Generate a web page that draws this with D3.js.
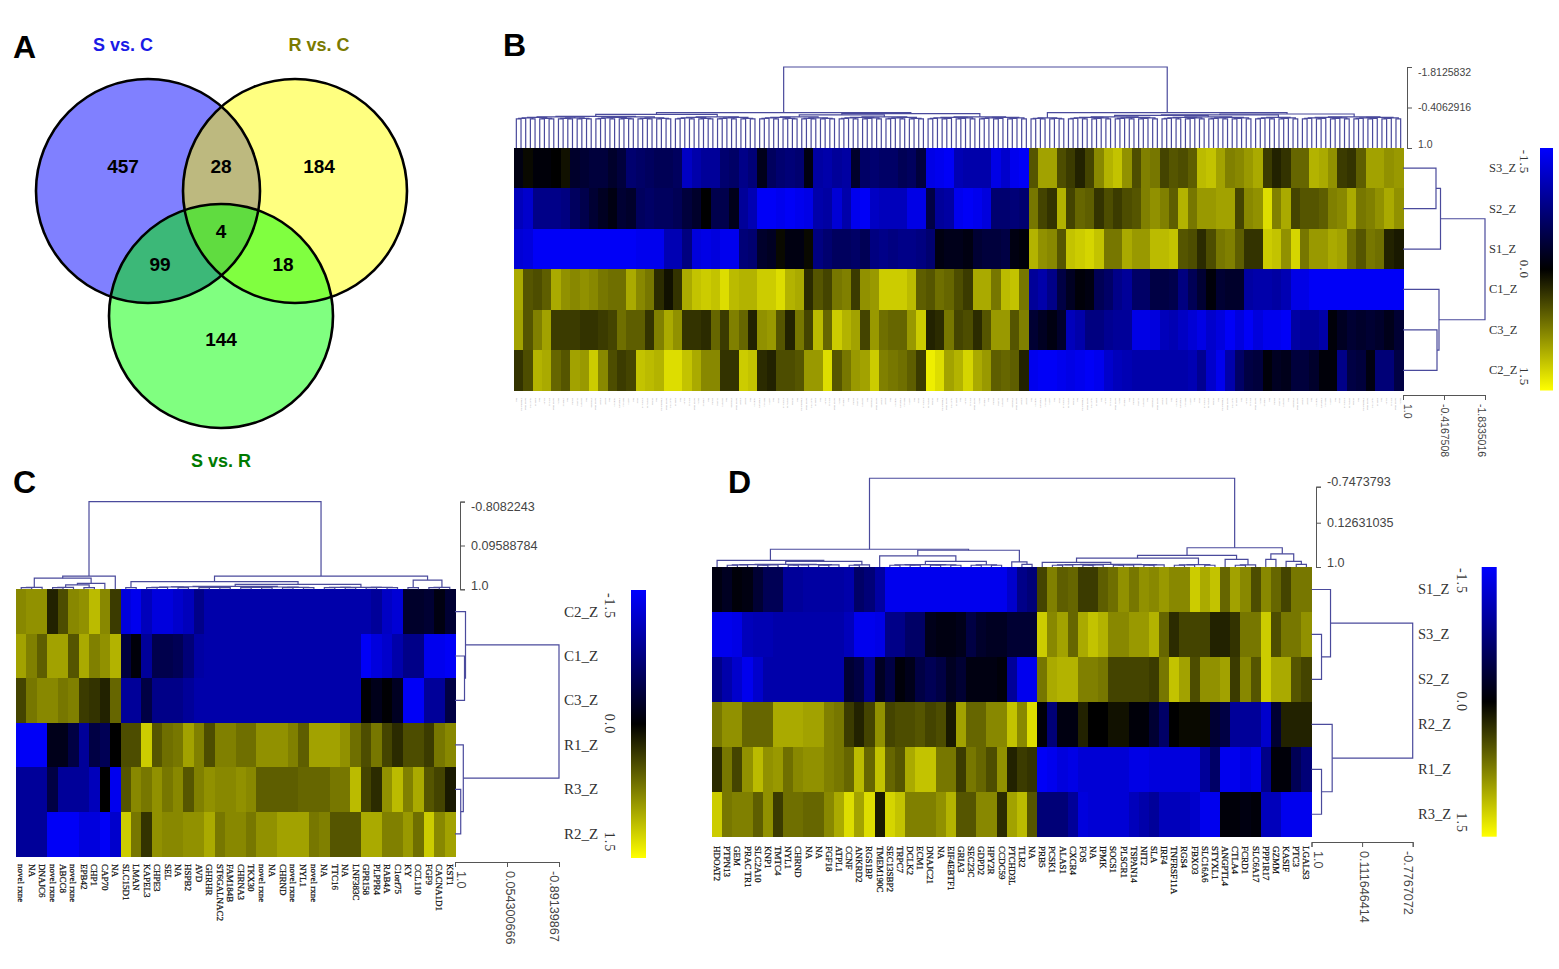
<!DOCTYPE html>
<html>
<head>
<meta charset="utf-8">
<script src="https://cdn.jsdelivr.net/npm/d3@7"></script>
<style>
  html, body { margin: 0; padding: 0; background: #fff; }
  svg { display: block; }
</style>
</head>
<body>
<svg id="chart" width="1559" height="969"></svg>
<script>
// Venn counts and set names
let vennCounts = { sc: 457, scRc: 28, rc: 184, all: 4, scSr: 99, rcSr: 18, sr: 144 };
let vennTitles = ["S vs. C", "R vs. C", "S vs. R"];

let rowsB = ["S3_Z", "S2_Z", "S1_Z", "C1_Z", "C3_Z", "C2_Z"];
let bS3 = [-.1,.05,-.05,-.05,0,.1,-.25,-.3,-.35,-.35,-.25,-.35,-.65,-.6,-.55,-.5,-.5,-.55,-1.15,-1,-.9,-.9,-.65,-.6,-.8,-.7,-.15,-.55,-.65,-.7,-.65,-.1,-.95,-1,-.9,-.95,-.25,-.6,-.65,-.6,-.6,-.5,-.55,-.35,-1.35,-1.4,-1.45,-1.05,-1,-1,-1,-1.35,-1.2,-1.4,-1.45,
  .5,.95,.95,.45,.35,.2,.4,.8,1.05,1.15,.85,.45,.75,.7,.4,.5,.45,.55,1.1,1.15,.95,.75,.8,.9,1,.35,.2,.3,.6,.6,1.05,1,.85,.35,.3,.55,.95,.95,.85,.9];
let bS2 = [-1.1,-1.2,-.8,-.8,-.8,-.75,-.55,-.45,-.3,-.2,-.1,-.3,-.25,-.55,-.6,-.55,-.55,-.5,-.35,-.25,0,-.45,-.45,-.15,-.9,-1.05,-1.45,-1.45,-1.4,-1.45,-1.4,-1.35,-1,-.95,-1.25,-1,-1.4,-1.45,-1.15,-1.1,-1.1,-1.1,-1.35,-1.35,-.4,-.9,-.95,-1.4,-1.45,-1.4,-1.3,-.65,-.65,-.7,-.65,
  .7,.4,.3,1.05,.4,.6,.55,.3,.45,.35,.45,.5,.75,.85,.75,.55,1.05,.7,.9,.9,.95,.95,.4,.8,.85,1.3,.75,1,.4,.5,.5,.55,.75,.8,1,.7,.75,.85,1,.85];
let bS1 = [-1.25,-1.3,-1.45,-1.45,-1.45,-1.45,-1.45,-1.45,-1.45,-1.45,-1.45,-1.45,-1.45,-1.4,-1.4,-1.4,-1.05,-1.05,-.75,-1.3,-1.35,-1.3,-1.4,-1.4,-.7,-.65,-.25,-.2,.05,-.1,-.1,.05,-.75,-.65,-.55,-.55,-.6,-.5,-.75,-.8,-.75,-.8,-.8,-.75,-.65,-.1,-.15,-.15,-.1,-.3,-.35,-.35,-.4,-.1,-.05,
  1.05,.85,.8,.5,1.15,1.2,1.25,1.15,.7,.7,1,.9,.9,1.1,1.1,1.15,.5,.45,.25,.45,.7,.75,.55,.3,.3,1.2,1.15,.85,1.25,.7,.9,.9,1,.95,.65,.5,.7,.65,.2,.15];
let bC1 = [1,.5,.45,.55,1,.85,.8,.85,.8,.7,.65,.65,1,.8,.7,.25,.1,.3,1,1.15,1.2,1.15,1.3,1.1,1.05,1.05,1.2,1.2,1.3,1.05,1,.25,.5,.4,.7,.75,.35,.85,.9,1.2,1.2,1.2,1.1,.55,.5,.65,.6,.45,.35,1,1,.7,1.1,1.15,.7,
  -.9,-1,-.8,-.4,-.2,-.05,-.1,-.5,-.6,-.8,-.9,-.6,-.6,-.4,-.4,-.45,-.75,-.5,-.3,-.05,-.3,-.25,-.25,-.95,-1,-1,-.95,-1.05,-1.35,-1.35,-1.45,-1.45,-1.45,-1.45,-1.45,-1.45,-1.45,-1.45,-1.45,-1.45];
let bC3 = [.95,.5,.75,.95,.35,.35,.35,.3,.3,.35,.4,.65,.55,.55,.3,.75,1,.85,.3,.3,.25,.6,.35,.75,.6,.2,.85,.9,.5,.2,.7,.4,1.1,.6,1.2,1.05,.95,.4,.9,.65,.6,.6,.9,1.2,.2,.25,.7,.4,.45,.25,.5,.9,.9,.5,.75,
  -.3,-.2,-.1,-.25,-1.1,-1,-.75,-.75,-.85,-.9,-.9,-1.35,-1.35,-1.3,-1.1,-1.05,-1.15,-1.25,-1.35,-1.2,-1.3,-1.45,-1.3,-1.45,-1.3,-1.4,-1.4,-1.45,-.95,-.9,-.9,-1,-.05,-.2,-.3,-.25,-.3,-.25,-.15,-.3];
let bC2 = [.3,.45,1.05,1,.6,.5,.95,.9,1.2,.8,.45,.35,.4,1.15,1.1,1.05,1.3,1.3,1.15,1,.8,.8,.3,.3,1.2,1.15,.25,.2,.45,.45,.5,.9,.9,1.3,.5,.7,.9,.95,1.2,.75,.7,.65,.55,.35,1.4,1.3,.95,1.05,1.25,1,.9,.55,.6,.55,.2,
  -1.4,-1.45,-1.45,-1.4,-1.35,-1.4,-1.45,-1.4,-1.2,-1.1,-1.05,-1,-1,-1,-1,-1,-1,-1.05,-.85,-1.2,-1.4,-1,-.6,-.4,-.35,-.05,-.2,-.15,-.35,-.35,-.25,-.05,-.05,-.8,-.4,-.35,-.1,-.7,-.7,-.4];
// the gene labels of panel B cannot be read at this size, so this is a stand-in list
let genesB = ["NA","TMEM45A","novel rxne","SLC7A5","GPR35","NA","KLF4","CCL22","novel rxne","RGS1","ZNF331","NA","EGR3","IL2RA","DUSP5","NA","PTGER4","novel rxne","CD69","BATF","NA","SOCS3","TNFSF9","NR4A2","ATF3","NA","PIM1","CXCL10","HSPA1B","FOSB"];

// Panel C values
let rowsC = ["C2_Z", "C1_Z", "C3_Z", "R1_Z", "R3_Z", "R2_Z"];
let cC2 = [.8,.85,.85,.2,.45,.8,.85,1.1,.8,.35,-1.3,-1.4,-1.1,-1.3,-1.3,-1.2,-1.1,-.8,-1,-1,-1,-1,-1,-1,-1,-1,-1,-1,-1,-1,-1,-1,-1,-1,-.9,-1.15,-1.25,-.25,-.25,-.3,-.1,-.3];
let cC1 = [.95,.75,.55,.95,.95,.5,1,.75,.85,1.05,-.35,-.05,-.9,-.45,-.45,-.5,-.7,-.95,-1,-1,-1,-1,-1,-1,-1,-1,-1,-1,-1,-1,-1,-1,-1,-1.45,-1.3,-1.2,-1,-.8,-.8,-1.4,-1.4,-1.45];
let cC3 = [.4,.7,.8,.8,.7,.75,.35,.3,.2,.6,-.9,-.9,-.4,-.8,-.8,-.8,-.9,-1,-1,-1,-1,-1,-1,-1,-1,-1,-1,-1,-1,-1,-1,-1,-1,-.02,-.15,-.02,-.2,-1.45,-1.45,-.9,-.9,-.4];
let cR1 = [-1.45,-1.45,-1.45,-.15,-.15,-.4,-.9,-.4,-.5,0,.45,.45,1.2,.5,.65,.7,.95,.75,.45,.75,.75,.65,.65,.85,.85,.85,.75,.55,.95,.95,.95,.85,.65,.45,.7,.4,.25,.45,.45,.35,.7,.8];
let cR3 = [-.9,-.9,-.9,-.4,-.9,-.9,-.9,-1.1,0,-1.4,.5,.8,.7,.85,.7,.8,.5,.75,.85,.8,.8,.85,.8,.55,.55,.55,.55,.6,.6,.6,.7,.7,1.1,.4,.25,.85,1.1,.75,1,.5,.4,.15];
let cR2 = [-.9,-.9,-.9,-1.45,-1.45,-1.45,-1.3,-1.3,-1.45,-1.2,1.2,.7,.3,.85,.8,.8,.85,.85,1,.7,.8,.8,.7,.85,.85,.95,.95,.95,.7,.75,.5,.5,.5,1,1,.75,.75,.9,.65,1.2,.8,.95];
let genesC = ["novel rxne","NA","DNAJC6","novel rxne","ABCC8","novel rxne","EPB42","CHP1","CAP70","NA","SLC15D1","LMAN","KAPEL3","CHPE3","SEL","NA","HSPB2","AVD","GHRHR","ST6GALNAC2","FAM184B","CHRNA3","TKX30","novel rxne","NA","CHRND","novel rxne","NYL1","novel rxne","NA","TTC16","NA","LNF383C","GPR158","PLPPR4","RAB4A","C1orf75","KY","CCL110","FGF9","CACNA1D1","KST1"];

// Panel D values
let rowsD = ["S1_Z", "S3_Z", "S2_Z", "R2_Z", "R1_Z", "R3_Z"];
let dS1 = [-.1,-.2,-.05,-.1,-.3,-.5,-.5,-.9,-.9,-.95,-.95,-.95,-.95,-1,-.6,-.7,-.95,-1.4,-1.4,-1.4,-1.4,-1.4,-1.4,-1.4,-1.4,-1.4,-1.4,-1.4,-1.4,-1.2,-.8,-.7,
  .4,.75,.55,.6,.35,.35,.55,.65,.85,.7,.85,.8,.9,.8,.8,1.2,1,1.15,.6,.95,.8,.45,.8,.6,.4,.7,.7];
let dS3 = [-1.4,-1.4,-1.35,-1.1,-1.05,-1.05,-1,-1,-1,-1,-1,-1,-1,-1.1,-1.4,-1.4,-1.35,-.8,-.8,-.6,-.6,-.15,-.1,-.1,-.15,-.4,-.25,-.2,-.2,-.3,-.3,-.3,
  1.2,.8,.95,.6,1,1.15,1.05,.8,.8,.9,.9,1.05,.6,.25,.4,.4,.4,.2,.2,.3,.7,.7,1.2,.45,.7,.7,.85];
let dS2 = [-.8,-1,-1.2,-1.4,-1.2,-1,-1,-1,-1,-1,-1,-1,-1,-.3,-.4,-.8,-.2,-.4,-.05,-.15,-.4,-.5,-.4,-.2,-.3,-.1,-.1,-.1,-.05,-.9,-1.4,-1.4,
  .7,1,1.05,1.05,.75,.75,.7,.4,.4,.4,.4,.35,.7,1.15,.95,.45,.85,.85,.95,.35,.8,.5,1.2,1,1,.5,.4];
let dR2 = [.7,.85,.85,.6,.6,.6,1,1,1,.95,.95,.75,.7,.35,.2,.4,.85,.4,.45,.45,.5,.4,.45,.15,.95,.6,.6,.8,.8,1.15,.8,1.3,
  -.05,-.7,-.1,-.1,.2,0,0,.1,.1,-.05,-.05,-.3,-.6,0,.05,.05,.05,-.3,-.4,-.9,-.9,-.9,-1.2,-.3,.2,.2,.2];
let dR1 = [.25,.7,.4,.85,1.1,.85,.9,.65,.8,.85,.85,.75,.7,.6,1.1,.6,1.15,.6,.5,1,1.15,1.15,.7,.7,.35,.7,.6,.45,.85,.2,.35,.3,
  -1.45,-1.4,-1.3,-1.35,-1.25,-1.25,-1.25,-1.25,-1.25,-1.35,-1.35,-1.3,-1.3,-1.3,-1.3,-1.3,-.9,-.6,-1.4,-1.4,-1.3,-1.4,-.8,-.05,-.05,-.5,-.7];
let dR3 = [1.2,.7,.75,.75,.55,.85,.35,.65,.65,.6,.6,.8,1,1.3,.95,1.3,.15,1.25,1.15,.75,.75,.75,.85,1.05,.5,.5,.8,.8,.25,.95,1.1,.5,
  -.7,-.7,-.7,-.9,-1.3,-1.25,-1.25,-1.25,-1.25,-1.1,-1,-.9,-1.1,-1.1,-1.1,-1.2,-1.4,-1.4,-.05,-.05,-.1,-.05,-1.1,-1.1,-1.4,-1.4,-1.4];
let genesD = ["HDOAT2","PTPN13","GEM","PRAC TR1","SLC2A10","KNP1","TMTC4","NYL1","CHRND","NA","NA","FGF18","ATPL1","CCNF","ANKRD2","RGS1BP","TMEM190C","SEC13SBP2","TRPC7","DCLK2","ECM1","DNAJC21","NA","EIF4EBTF1","GRIA3","SEC23C","GDPD2","HPY2R","CCDC59","PTCHD3L","TLR2","NA","PRB5","PCSK1","ALAS1","CXCR4","FOS","NA","IPMK","SOCS1","PLSCR1","TSPAN14","NIT2","SLA","IRF4","TNFRSF11A","RGS4","FBXO3","SLC16A6","STYXL1","ANGPTL4","CTLA4","FCRD1","SLC6A17","PPP1R17","GZMM","KASIF","PTC3","LGALS3"];

// Distance axes: tick values and their printed labels
let ticksBTop = [-1.8125832, -0.4062916, 1.0], labelsBTop = ["-1.8125832", "-0.4062916", "1.0"];
let ticksBSide = [1.0, -0.4167508, -1.8335016], labelsBSide = ["1.0", "-0.4167508", "-1.8335016"];
let ticksCTop = [-0.8082243, 0.09588784, 1.0], labelsCTop = ["-0.8082243", "0.09588784", "1.0"];
let ticksCSide = [1.0, 0.054300666, -0.89139867], labelsCSide = ["1.0", "0.054300666", "-0.89139867"];
let ticksDTop = [-0.7473793, 0.12631035, 1.0], labelsDTop = ["-0.7473793", "0.12631035", "1.0"];
let ticksDSide = [1.0, 0.111646414, -0.7767072], labelsDSide = ["1.0", "0.111646414", "-0.7767072"];

// Dendrograms: [height, left, right]; a plain number n is a tight cluster of n leaves
let treeBTop = [-1.8125832,
  [-.225, [-.17, 34, 18], [-.197, [-.15, 17, 19], 22]],
  [-.225, 8, [-.18, [-.15, [-.13, 20, 20], 10], 22]]];
let treeBSide = [-1.8335016, [-.296, [-.14, 1, 1], 1], [-.244, 1, [-.175, 1, 1]]];
let treeCTop = [-0.8082243,
  [.726, [.77, 3, [.876, [.91, 3, 2], 1]], 1],
  [.726, [.84, 2, [.9, 17, [.96, 4, 4]]], [.81, 2, 3]]];
let treeCSide = [-0.89139867, [.809, 1, [.827, 1, 1]], [.849, 1, [.896, 1, 1]]];
let treeDTop = [-.953,
  [.65, [.87, 1, [.89, 12, 3]], [.67, [.78, 1, [.89, 8, 4]], [.9, 1, [.95, 1, 1]]]],
  [.62,
    [.77, [.825, [.91, 1, 12], 5], [.85, 1, 3]],
    [.74, [.85, 1, 1], [.89, 1, [.95, 1, 1]]]]];
let treeDSide = [-0.7767072, [.666, 1, [.824, 1, 1]], [.637, 1, [.824, 1, 1]]];

let svg = d3.select("#chart");
let heatColor = d3.scaleLinear().domain([-1.5, 0, 1.5]).range(["#0000ff", "#000000", "#ffff00"]);
let treeColor = "#4a4a9c";
let serif = "'Liberation Serif', serif";
let sans = "'Liberation Sans', sans-serif";

// Panel A
function drawVenn() {
    let r = 112;
    let circles = [
        { id: "vennS", cx: 148, cy: 191, fill: "#8080ff" },
        { id: "vennR", cx: 295, cy: 191, fill: "#ffff80" },
        { id: "vennG", cx: 221, cy: 316, fill: "#80ff80" }
    ];
    let defs = svg.append("defs");
    circles.forEach(c => {
        defs.append("clipPath").attr("id", c.id)
            .append("circle").attr("cx", c.cx).attr("cy", c.cy).attr("r", r);
    });
    let g = svg.append("g");
    circles.forEach(c => {
        g.append("circle").attr("cx", c.cx).attr("cy", c.cy).attr("r", r).attr("fill", c.fill);
    });
    // overlaps
    g.append("g").attr("clip-path", "url(#vennS)")
        .append("circle").attr("cx", circles[1].cx).attr("cy", circles[1].cy).attr("r", r).attr("fill", "#bdb97f");
    g.append("g").attr("clip-path", "url(#vennS)")
        .append("circle").attr("cx", circles[2].cx).attr("cy", circles[2].cy).attr("r", r).attr("fill", "#3cb878");
    g.append("g").attr("clip-path", "url(#vennR)")
        .append("circle").attr("cx", circles[2].cx).attr("cy", circles[2].cy).attr("r", r).attr("fill", "#80ff40");
    g.append("g").attr("clip-path", "url(#vennS)").append("g").attr("clip-path", "url(#vennR)")
        .append("circle").attr("cx", circles[2].cx).attr("cy", circles[2].cy).attr("r", r).attr("fill", "#60dc40");
    circles.forEach(c => {
        g.append("circle").attr("cx", c.cx).attr("cy", c.cy).attr("r", r)
            .attr("fill", "none").attr("stroke", "#000").attr("stroke-width", 2.6);
    });

    let places = [
        ["sc", 123, 166], ["scRc", 221, 166], ["rc", 319, 166], ["all", 221, 231],
        ["scSr", 160, 264], ["rcSr", 283, 264], ["sr", 221, 339]
    ];
    g.selectAll(".count").data(places).enter().append("text")
        .attr("x", d => d[1]).attr("y", d => d[2])
        .attr("text-anchor", "middle").attr("dominant-baseline", "central")
        .attr("font-family", sans).attr("font-weight", "bold").attr("font-size", 19)
        .text(d => vennCounts[d[0]]);

    let titleAt = [[123, 45, "#1a1ae6"], [319, 45, "#7a7a00"], [221, 461, "#007a00"]];
    g.selectAll(".title").data(vennTitles).enter().append("text")
        .attr("x", (d, i) => titleAt[i][0]).attr("y", (d, i) => titleAt[i][1])
        .attr("fill", (d, i) => titleAt[i][2])
        .attr("text-anchor", "middle").attr("dominant-baseline", "central")
        .attr("font-family", sans).attr("font-weight", "bold").attr("font-size", 18)
        .text(d => d);
}

function drawHeatmap(p) {
    let x = d3.scaleBand().domain(d3.range(p.rows[0].length)).range([p.x0, p.x1]);
    let y = d3.scaleBand().domain(d3.range(p.rows.length)).range([p.y0, p.y1]);
    let g = svg.append("g").attr("shape-rendering", "crispEdges");
    p.rows.forEach((row, i) => {
        g.selectAll(".r" + i).data(row).enter().append("rect")
            .attr("x", (d, j) => x(j))
            .attr("y", y(i))
            .attr("width", x.bandwidth() + 0.5)
            .attr("height", y.bandwidth() + 0.5)
            .attr("fill", d => heatColor(d));
    });
    svg.append("g").selectAll("text").data(p.rowLabels).enter().append("text")
        .attr("x", p.labelX)
        .attr("y", (d, i) => y(i) + y.bandwidth() / 2)
        .attr("dominant-baseline", "central")
        .attr("font-family", serif).attr("font-size", p.labelSize).attr("fill", "#333")
        .text(d => d);

    // gene labels under the columns
    let leafN = p.leafCount || p.rows[0].length;
    let geneX = d3.scaleBand().domain(d3.range(leafN)).range([p.x0, p.x1]);
    svg.append("g").selectAll("text").data(d3.range(leafN)).enter().append("text")
        .attr("transform", i => "translate(" + (geneX(i) + geneX.bandwidth() / 2) + "," + p.geneY + ") rotate(90)")
        .attr("dominant-baseline", "central")
        .attr("font-family", serif).attr("font-size", p.geneSize).attr("fill", p.geneFill)
        .attr("stroke", p.geneStroke || "none").attr("stroke-width", 0.25)
        .text(i => p.genes[i % p.genes.length]);
}

// Walk a dendrogram; returns the node {pos, h} and fills links
function layoutTree(node, state, links) {
    if (typeof node === "number") return layoutCluster(node, state, links);
    let a = layoutTree(node[1], state, links);
    let b = layoutTree(node[2], state, links);
    links.push({ a: a, b: b, h: node[0] });
    return { pos: (a.pos + b.pos) / 2, h: node[0] };
}

function layoutCluster(n, state, links) {
    // tight clusters: detail below what the picture can show
    if (n === 1) return { pos: state.pos(state.next++), h: 1 };
    let left = Math.ceil(n / 2);
    let a = layoutCluster(left, state, links);
    let b = layoutCluster(n - left, state, links);
    let h = Math.min(a.h, b.h, state.base + state.step) - state.step;
    links.push({ a: a, b: b, h: h });
    return { pos: (a.pos + b.pos) / 2, h: h };
}

function drawTree(tree, leafScale, dist, vertical, base, step) {
    let links = [];
    layoutTree(tree, { next: 0, pos: i => leafScale(i) + leafScale.bandwidth() / 2, base: base, step: step }, links);
    svg.append("g").selectAll("path").data(links).enter().append("path")
        .attr("fill", "none").attr("stroke", treeColor).attr("stroke-width", 1.2)
        .attr("d", l => {
            if (vertical) {
                return "M" + l.a.pos + "," + dist(l.a.h) + "V" + dist(l.h) + "H" + l.b.pos + "V" + dist(l.b.h);
            }
            return "M" + dist(l.a.h) + "," + l.a.pos + "H" + dist(l.h) + "V" + l.b.pos + "H" + dist(l.b.h);
        });
}

function drawTopAxis(scale, xPos, ticks, labels, shifts, size) {
    let g = svg.append("g").attr("transform", "translate(" + xPos + ",0)").attr("color", "#555");
    g.call(d3.axisRight(scale).tickValues(ticks).tickFormat((d, i) => labels[i]).tickSize(5).tickPadding(6));
    g.selectAll("text").attr("font-family", sans).attr("font-size", size).attr("fill", "#444")
        .attr("dy", (d, i) => (0.32 * size + shifts[i]) + "px");
}

function drawSideAxis(scale, yPos, ticks, labels, shifts, size) {
    let g = svg.append("g").attr("transform", "translate(0," + yPos + ")").attr("color", "#555");
    g.call(d3.axisBottom(scale).tickValues(ticks).tickFormat((d, i) => labels[i]).tickSize(5));
    g.selectAll("text").attr("font-family", sans).attr("font-size", size).attr("fill", "#444")
        .attr("transform", "rotate(90)").attr("text-anchor", "start")
        .attr("x", 9).attr("y", (d, i) => -shifts[i]).attr("dy", "0.32em");
}

function drawLegend(p) {
    let id = "grad" + p.id;
    let grad = svg.append("defs").append("linearGradient").attr("id", id)
        .attr("x1", 0).attr("x2", 0).attr("y1", 0).attr("y2", 1);
    heatColor.domain().forEach((d, i) => {
        grad.append("stop").attr("offset", i / 2).attr("stop-color", heatColor(d));
    });
    svg.append("rect").attr("x", p.x).attr("y", p.y0).attr("width", p.w).attr("height", p.y1 - p.y0)
        .attr("fill", "url(#" + id + ")");
    let labs = ["-1.5", "0.0", "1.5"];
    let ys = [p.y0 + p.inset, (p.y0 + p.y1) / 2, p.y1 - p.inset];
    svg.append("g").selectAll("text").data(labs).enter().append("text")
        .attr("transform", (d, i) => "translate(" + p.labelX + "," + ys[i] + ") rotate(90)")
        .attr("text-anchor", "middle").attr("dominant-baseline", "central")
        .attr("font-family", serif).attr("font-size", p.size).attr("letter-spacing", 1).attr("fill", "#333")
        .text(d => d);
}

function drawPanel(p) {
    drawHeatmap(p);
    let nLeaves = p.leafCount || p.rows[0].length;
    let colLeaf = d3.scaleBand().domain(d3.range(nLeaves)).range([p.x0, p.x1]);
    let rowLeaf = d3.scaleBand().domain(d3.range(p.rows.length)).range([p.y0, p.y1]);
    let topDist = d3.scaleLinear().domain(p.ticksTop).range([p.axisTop, p.axisMid, p.y0]);
    let sideDist = d3.scaleLinear().domain([1, p.ticksSide[2]]).range([p.x1, p.sideEnd]);
    drawTree(p.treeTop, colLeaf, topDist, true, p.clusterH, p.clusterStep);
    drawTree(p.treeSide, rowLeaf, sideDist, false, 1, 0);
    drawTopAxis(topDist, p.axisX, p.ticksTop, p.labelsTop, p.topShifts, p.topSize);
    drawSideAxis(sideDist, p.axisY, p.ticksSide, p.labelsSide, p.sideShifts, p.topSize);
    drawLegend(p.legend);
}

drawVenn();

drawPanel({
    x0: 514, x1: 1403, y0: 148, y1: 390.5,
    rows: [bS3, bS2, bS1, bC1, bC3, bC2], rowLabels: rowsB, labelX: 1489, labelSize: 12.5,
    genes: genesB, leafCount: 190, geneY: 398, geneSize: 2.8, geneFill: "#999",
    treeTop: treeBTop, treeSide: treeBSide, clusterH: -.01, clusterStep: .017,
    ticksTop: ticksBTop, labelsTop: labelsBTop, ticksSide: ticksBSide, labelsSide: labelsBSide,
    axisTop: 67, axisMid: 107.5, axisX: 1407, axisY: 395, sideEnd: 1485,
    topShifts: [5, 0, -4], sideShifts: [4, 0, -4], topSize: 10.5,
    legend: { id: "B", x: 1540, w: 13, y0: 148, y1: 390.5, labelX: 1524, inset: 14, size: 13 }
});

drawPanel({
    x0: 16, x1: 455, y0: 589.3, y1: 856,
    rows: [cC2, cC1, cC3, cR1, cR3, cR2], rowLabels: rowsC, labelX: 564, labelSize: 15,
    genes: genesC, geneY: 864, geneSize: 9, geneFill: "#111", geneStroke: "#111",
    treeTop: treeCTop, treeSide: treeCSide, clusterH: .965, clusterStep: .006,
    ticksTop: ticksCTop, labelsTop: labelsCTop, ticksSide: ticksCSide, labelsSide: labelsCSide,
    axisTop: 501.6, axisMid: 545.5, axisX: 460, axisY: 862, sideEnd: 559,
    topShifts: [5, 0, -4], sideShifts: [6, 3, -5], topSize: 12.6,
    legend: { id: "C", x: 631, w: 15, y0: 590, y1: 858, labelX: 609, inset: 16, size: 14 }
});

drawPanel({
    x0: 712, x1: 1311.5, y0: 567, y1: 836.7,
    rows: [dS1, dS3, dS2, dR2, dR1, dR3], rowLabels: rowsD, labelX: 1418, labelSize: 14.5,
    genes: genesD, geneY: 846, geneSize: 9, geneFill: "#111", geneStroke: "#111",
    treeTop: treeDTop, treeSide: treeDSide, clusterH: .965, clusterStep: .006,
    ticksTop: ticksDTop, labelsTop: labelsDTop, ticksSide: ticksDSide, labelsSide: labelsDSide,
    axisTop: 486.7, axisMid: 522.7, axisX: 1316, axisY: 842, sideEnd: 1412.7,
    topShifts: [-5, 0, -5], sideShifts: [6, 1, -5], topSize: 12.6,
    legend: { id: "D", x: 1481.7, w: 15, y0: 567, y1: 836.7, labelX: 1461, inset: 14, size: 14 }
});

// Panel letters
let letters = [["A", 13, 58], ["B", 503, 56], ["C", 13, 493], ["D", 728, 493]];
svg.append("g").selectAll("text").data(letters).enter().append("text")
    .attr("x", d => d[1]).attr("y", d => d[2])
    .attr("font-family", sans).attr("font-weight", "bold").attr("font-size", 32)
    .text(d => d[0]);
</script>
</body>
</html>
